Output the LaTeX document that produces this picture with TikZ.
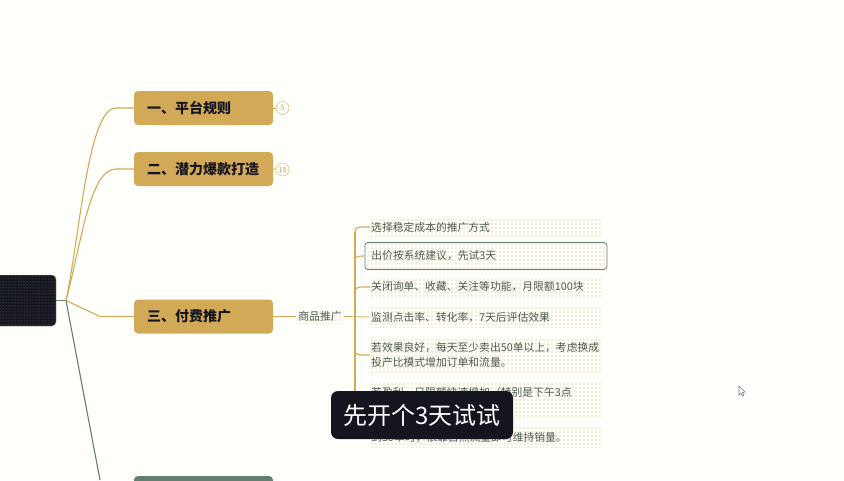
\documentclass[tikz,border=0pt]{standalone}
\usepackage{fontspec}
\setmainfont{Noto Sans CJK SC}
\usetikzlibrary{patterns}
\definecolor{gold}{HTML}{D2A957}
\definecolor{sage}{HTML}{627F70}
\definecolor{ink}{HTML}{14151F}
\definecolor{paper}{HTML}{FFFFFB}
\definecolor{leaftext}{HTML}{4C5A4C}
\pgfdeclarepatternformonly{leafdots}{\pgfqpoint{-1pt}{-1pt}}{\pgfqpoint{1pt}{1pt}}{\pgfqpoint{4pt}{4pt}}{%
  \pgfpathcircle{\pgfqpoint{0pt}{0pt}}{.6pt}\pgfusepath{fill}}
\pgfdeclarepatternformonly{rootdots}{\pgfqpoint{-1pt}{-1pt}}{\pgfqpoint{1pt}{1pt}}{\pgfqpoint{3pt}{3pt}}{%
  \pgfpathcircle{\pgfqpoint{0pt}{0pt}}{.5pt}\pgfusepath{fill}}
\tikzset{
  topic/.style={rounded corners=4pt,fill=gold,text=ink,minimum width=139pt,minimum height=34pt,inner sep=0pt,font=\fontsize{14}{16}\selectfont\bfseries,text width=113pt},
  dotted fill/.style={pattern=leafdots,pattern color=gold},
  leaf/.style={dotted fill,anchor=west,inner ysep=0pt,inner xsep=1pt,text=leaftext,font=\fontsize{10.8}{15}\selectfont,align=left,text width=230pt},
  branch/.style={gold,line width=1.1pt},
  twig/.style={gold,line width=.8pt},
  badge/.style={circle,draw=gold,fill=paper,minimum size=13pt,inner sep=0pt,text=gold,font=\fontsize{7.5}{7.5}\selectfont},
}
\begin{document}
\begin{tikzpicture}[x=1pt,y=-1pt]
    \useasboundingbox[fill=paper] (0,0) rectangle (844,480);
    % root and the way out of it
    \node[rounded corners=4pt,preaction={fill=ink},draw=gold,pattern=rootdots,pattern color=sage,minimum width=70pt,minimum height=51pt,inner sep=0pt] (root) at (21,300.5) {};
    \coordinate (fork) at (66,300.5);
    \coordinate (fourbend) at (100,480);
    % topics
    \node[topic] (one) at (203.5,108) {一、平台规则};
    \node[topic] (two) at (203.5,169) {二、潜力爆款打造};
    \node[topic] (three) at (203.5,316.5) {三、付费推广};
    \node[topic,fill=sage] (four) at (203.5,493) {};
    \node[badge] (onecount) at (282.5,108) {5};
    \node[badge] (twocount) at (282.5,169.5) {18};
    \draw[sage,line width=1.1pt] (root.east) -- (fork);
    \draw[branch] (fork) .. controls (80,235) and (88,108) .. (116,108) -- (one.west);
    \draw[branch] (fork) .. controls (82,240) and (90,169) .. (116,169) -- (two.west);
    \draw[branch] (fork) -- (100,316.5) -- (three.west);
    \draw[sage,line width=1.1pt] (fork) -- (fourbend);
    \draw[twig] (one.east) -- (onecount);
    \draw[twig] (two.east) -- (twocount);
    % leaves of the third topic
    \node[dotted fill,inner sep=2pt,text=leaftext,font=\fontsize{10.8}{15}\selectfont] (goods) at (320,316.5) {商品推广};
    \draw[twig] (three.east) -- (goods.west);
    \node[leaf,minimum height=20pt] (a) at (370,227) {选择稳定成本的推广方式};
    \node[leaf,minimum height=20pt] (c) at (370,287) {关闭询单、收藏、关注等功能，月限额100块};
    \node[leaf,minimum height=20pt] (d) at (370,317) {监测点击率、转化率，7天后评估效果};
    \node[leaf,minimum height=34pt] (e) at (370,355) {若效果良好，每天至少卖出50单以上，考虑换成\\投产比模式增加订单和流量。};
    \node[leaf,minimum height=34pt] (f) at (370,399) {若盈利，日限额快速增加（特别是下午3点\\\mbox{}};
    \node[leaf,minimum height=20pt] (g) at (370,437) {到50单时，依靠自然流量即可维持销量。};
    \node[draw=sage,rounded corners=3pt,dotted fill,anchor=west,minimum width=242pt,minimum height=27pt,inner sep=0pt,text width=229pt,text=leaftext,font=\fontsize{10.8}{15}\selectfont,line width=.8pt] (b) at (364.5,256) {出价按系统建议，先试3天};
    % spine
    \coordinate (spine) at (355,317);
    \draw[twig] (goods.east) -- (d.west);
    \foreach \leafname in {a,b,c}{
      \draw[branch] (spine |- \leafname.west) ++(0,6) -- ++(0,-2) to[out=90,in=180] ++(7,-4) -- (\leafname.west);
    }
    \foreach \leafname in {e,g}{
      \draw[branch] (spine |- \leafname.west) ++(0,-6) -- ++(0,2) to[out=-90,in=180] ++(7,4) -- (\leafname.west);
    }
    \draw[branch] (355,232) -- (355,431);
    % caption and pointer
    \node[rounded corners=7pt,fill=ink,text=white,minimum width=182pt,minimum height=48pt,inner sep=0pt,font=\fontsize{24}{26}\selectfont] (caption) at (422,415) {先开个3天试试};
    \draw[sage,fill=white,line width=.6pt] (739,386) -- (739,395) -- (741,393.5) -- (743,396) -- (744,395) -- (742.5,392.5) -- (745,392) -- cycle;
\end{tikzpicture}
\end{document}
